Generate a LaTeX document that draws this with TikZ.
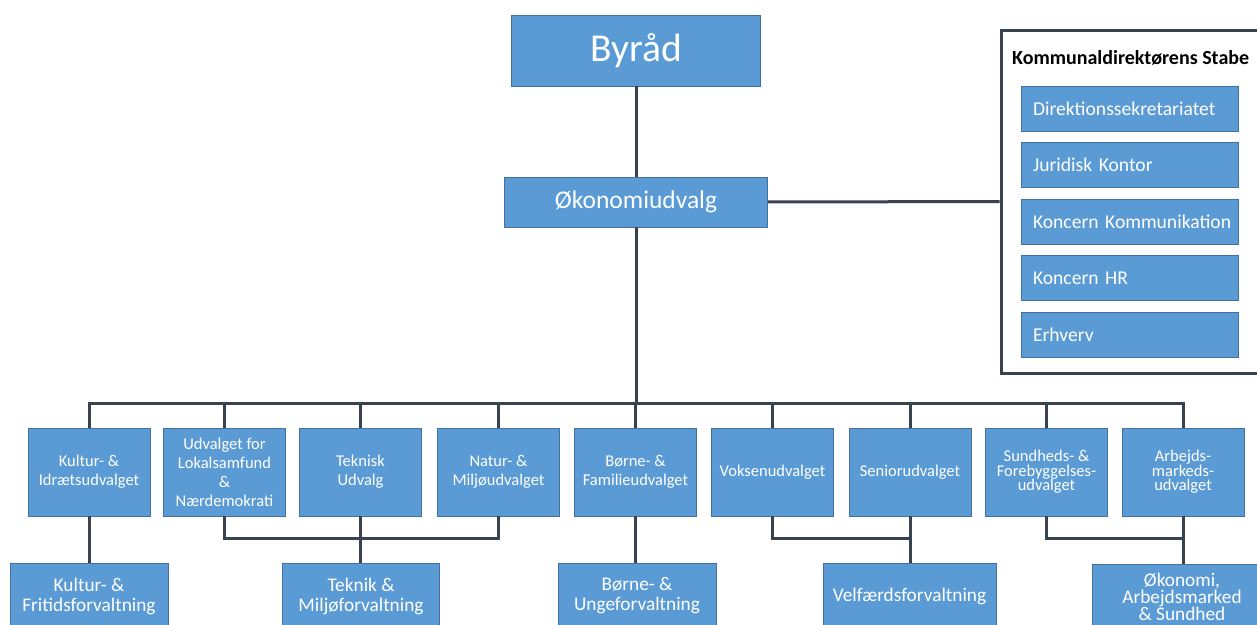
\documentclass[tikz,border=0pt]{standalone}
\usepackage{fontspec}
\setmainfont{Carlito}
\usetikzlibrary{positioning}
\definecolor{boxblue}{HTML}{5B9BD5}
\definecolor{boxedge}{HTML}{41719C}
\definecolor{linegray}{HTML}{38434F}

\begin{document}
\begin{tikzpicture}[x=1pt,y=-1pt]
	\tikzstyle{unit}=[draw=boxedge, fill=boxblue, text=white, line width=0.8pt, inner sep=0pt, align=center]
	\tikzstyle{udv}=[unit, minimum width=122pt, minimum height=88pt, font=\fontsize{16.5}{19}\selectfont]
	\tikzstyle{udvtight}=[udv, font=\fontsize{16.5}{14.5}\selectfont]
	\tikzstyle{forv}=[unit, minimum height=66pt, font=\fontsize{19.3}{20}\selectfont]
	\tikzstyle{stab}=[unit, minimum width=217pt, minimum height=45pt, text width=193pt, align=left, font=\fontsize{19.6}{22}\selectfont]
	\tikzstyle{link}=[draw=linegray, line width=3pt]
	\useasboundingbox (0,0) rectangle (1257,624);

	% top
	\node[unit, minimum width=249pt, minimum height=71pt, font=\fontsize{39.5}{40}\selectfont] (byraad) at (636,50.5) {Byråd};
	\node[unit, minimum width=263pt, minimum height=50pt, font=\fontsize{25.5}{28}\selectfont] (oek) at (636,202) {Økonomiudvalg};

	% staben
	\node[draw=linegray, line width=3pt, minimum width=261pt, minimum height=343pt, inner sep=0pt] (stabe) at (1131.5,201.5) {};
	\node[anchor=west, inner sep=0pt, font=\bfseries\fontsize{20}{22}\selectfont] (stabtitle) at (1012,58) {Kommunaldirektørens Stabe};
	\foreach \txt [count=\i] in {Direktionssekretariatet, Juridisk Kontor, Koncern Kommunikation, Koncern HR, Erhverv}
		\node[stab] (s\i) at (1129.5,{108.5+(\i-1)*56.5}) {\mbox{\txt}};

	% udvalg
	\node[udv] (k1) at (89,472) {Kultur- \&\\Idrætsudvalget};
	\node[udv] (k2) at (224.5,472) {Udvalget for\\Lokalsamfund\\\&\\Nærdemokrati};
	\node[udv] (k3) at (360.5,472) {Teknisk\\Udvalg};
	\node[udv] (k4) at (498.5,472) {Natur- \&\\Miljøudvalget};
	\node[udv] (k5) at (635.5,472) {Børne- \&\\Familieudvalget};
	\node[udv] (k6) at (772.5,472) {Voksenudvalget};
	\node[udv] (k7) at (910,472) {Seniorudvalget};
	\node[udvtight] (k8) at (1046.5,472) {Sundheds- \&\\Forebyggelses-\\udvalget};
	\node[udvtight] (k9) at (1183,472) {Arbejds-\\markeds-\\udvalget};

	% forvaltninger
	\node[forv, minimum width=158pt] (f1) at (89,596) {Kultur- \&\\Fritidsforvaltning};
	\node[forv, minimum width=157pt] (f2) at (361,596) {Teknik \&\\Miljøforvaltning};
	\node[forv, minimum width=158pt] (f3) at (637,596) {Børne- \&\\Ungeforvaltning};
	\node[forv, minimum width=173pt] (f4) at (909.5,596) {Velfærdsforvaltning};
	\node[forv, minimum width=180pt, font=\fontsize{19.3}{17}\selectfont] (f5) at (1182,597) {Økonomi,\\Arbejdsmarked\\\& Sundhed};

	\coordinate (bus) at (636,403);
	\coordinate (lowbus) at (0,538);

	\draw[link] (byraad) -- (oek);
	\draw[link] (oek) -- (stabe);
	\draw[link] (oek) -- (bus);
	\draw[link] (k1.north) |- (bus) -| (k9.north);
	\foreach \k in {2,...,8}
		\draw[link] (k\k.north) -- (k\k.north |- bus);

	\draw[link] (k1.south) -- (k1.south |- f1.north);
	\draw[link] (k2.south) -- (k2.south |- lowbus) -| (k4.south);
	\draw[link] (k3.south) -- (k3.south |- f2.north);
	\draw[link] (k5.south) -- (k5.south |- f3.north);
	\draw[link] (k6.south) -- (k6.south |- lowbus) -| (k7.south);
	\draw[link] (k7.south) -- (k7.south |- f4.north);
	\draw[link] (k8.south) -- (k8.south |- lowbus) -| (k9.south);
	\draw[link] (k9.south) -- (k9.south |- f5.north);
\end{tikzpicture}
\end{document}
